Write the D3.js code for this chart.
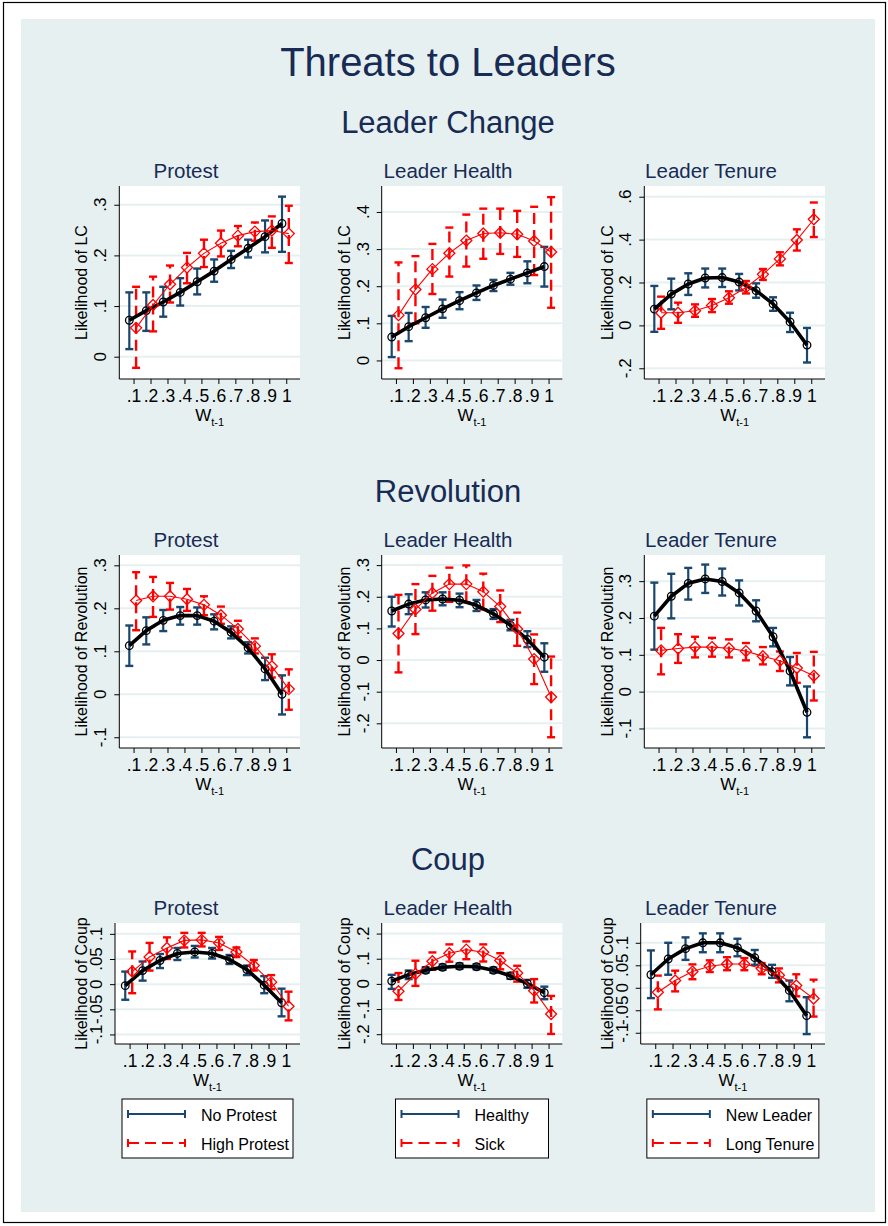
<!DOCTYPE html>
<html>
<head>
<meta charset="utf-8">
<title>Threats to Leaders</title>
<script src="https://d3js.org/d3.v7.min.js"></script>
<style>
  body { margin: 0; background: #fff; }
  svg { font-family: "Liberation Sans", Arial, Helvetica, sans-serif; display: block; }
</style>
</head>
<body>
<script>
// ---- data: each row is [estimate, lower CI, upper CI] at W = .1 ... 1
var xValues = [0.1, 0.2, 0.3, 0.4, 0.5, 0.6, 0.7, 0.8, 0.9, 1];
var xTickLabels = [".1", ".2", ".3", ".4", ".5", ".6", ".7", ".8", ".9", "1"];

var rowTitles = ["Leader Change", "Revolution", "Coup"];
var colTitles = ["Protest", "Leader Health", "Leader Tenure"];
var yTitles = ["Likelihood of LC", "Likelihood of Revolution", "Likelihood of Coup"];
var legendLabels = [["No Protest", "High Protest"], ["Healthy", "Sick"], ["New Leader", "Long Tenure"]];

var yTicks = [
  [[0, 0.1, 0.2, 0.3], [0, 0.1, 0.2, 0.3, 0.4], [-0.2, 0, 0.2, 0.4, 0.6]],
  [[-0.1, 0, 0.1, 0.2, 0.3], [-0.2, -0.1, 0, 0.1, 0.2, 0.3], [-0.1, 0, 0.1, 0.2, 0.3]],
  [[-0.1, -0.05, 0, 0.05, 0.1], [-0.2, -0.1, 0, 0.1, 0.2], [-0.1, -0.05, 0, 0.05, 0.1]]
];

var lcProtestNo = [[0.072,0.015,0.127],[0.091,0.051,0.127],[0.108,0.079,0.138],[0.127,0.101,0.155],[0.148,0.123,0.174],
  [0.169,0.148,0.192],[0.192,0.175,0.209],[0.214,0.196,0.231],[0.237,0.206,0.269],[0.263,0.207,0.316]];
var lcProtestHigh = [[0.057,-0.022,0.138],[0.102,0.05,0.158],[0.143,0.107,0.18],[0.176,0.145,0.205],[0.204,0.177,0.231],
  [0.224,0.198,0.249],[0.239,0.218,0.258],[0.247,0.229,0.265],[0.249,0.215,0.277],[0.243,0.185,0.298]];
var lcHealthHealthy = [[0.063,0.009,0.12],[0.091,0.052,0.128],[0.115,0.088,0.144],[0.139,0.115,0.164],[0.161,0.138,0.184],
  [0.182,0.163,0.202],[0.202,0.187,0.217],[0.219,0.204,0.236],[0.236,0.208,0.267],[0.253,0.199,0.306]];
var lcHealthSick = [[0.122,-0.021,0.264],[0.191,0.10,0.281],[0.246,0.179,0.314],[0.289,0.226,0.358],[0.323,0.253,0.393],
  [0.342,0.274,0.409],[0.344,0.287,0.409],[0.34,0.279,0.403],[0.322,0.23,0.414],[0.292,0.142,0.44]];
var lcTenureNew = [[0.076,-0.03,0.184],[0.146,0.075,0.218],[0.193,0.142,0.243],[0.221,0.177,0.265],[0.223,0.179,0.265],
  [0.202,0.163,0.24],[0.162,0.129,0.196],[0.1,0.068,0.131],[0.016,-0.031,0.059],[-0.092,-0.173,-0.012]];
var lcTenureLong = [[0.059,-0.016,0.134],[0.059,0.012,0.106],[0.068,0.04,0.098],[0.093,0.062,0.123],[0.129,0.101,0.159],
  [0.177,0.149,0.207],[0.238,0.212,0.263],[0.31,0.28,0.341],[0.398,0.349,0.448],[0.495,0.412,0.573]];

var revProtestNo = [[0.113,0.066,0.16],[0.148,0.116,0.179],[0.172,0.147,0.196],[0.183,0.162,0.203],[0.183,0.162,0.202],
  [0.17,0.151,0.186],[0.144,0.13,0.158],[0.108,0.095,0.121],[0.059,0.033,0.085],[0.0,-0.047,0.044]];
var revProtestHigh = [[0.218,0.149,0.284],[0.228,0.18,0.273],[0.228,0.197,0.259],[0.221,0.194,0.245],[0.208,0.184,0.228],
  [0.184,0.164,0.204],[0.152,0.133,0.171],[0.112,0.095,0.13],[0.065,0.039,0.093],[0.012,-0.036,0.058]];
var revHealthHealthy = [[0.155,0.106,0.2],[0.177,0.145,0.208],[0.19,0.166,0.214],[0.193,0.173,0.214],[0.189,0.167,0.21],
  [0.173,0.155,0.19],[0.146,0.13,0.161],[0.11,0.094,0.127],[0.065,0.041,0.091],[0.009,-0.037,0.053]];
var revHealthSick = [[0.084,-0.039,0.206],[0.16,0.082,0.24],[0.212,0.156,0.266],[0.24,0.184,0.292],[0.24,0.183,0.299],
  [0.216,0.16,0.273],[0.169,0.12,0.22],[0.098,0.045,0.15],[0.003,-0.076,0.081],[-0.117,-0.244,0.011]];
var revTenureNew = [[0.205,0.114,0.296],[0.259,0.199,0.32],[0.294,0.25,0.336],[0.306,0.268,0.345],[0.299,0.261,0.334],
  [0.268,0.234,0.302],[0.219,0.191,0.248],[0.149,0.123,0.173],[0.056,0.017,0.094],[-0.056,-0.124,0.014]];
var revTenureLong = [[0.112,0.047,0.173],[0.117,0.078,0.156],[0.121,0.093,0.149],[0.121,0.095,0.146],[0.118,0.093,0.142],
  [0.11,0.085,0.132],[0.096,0.074,0.121],[0.084,0.056,0.109],[0.064,0.024,0.105],[0.043,-0.024,0.108]];

var coupProtestNo = [[-0.003,-0.031,0.025],[0.027,0.007,0.045],[0.047,0.032,0.06],[0.061,0.048,0.072],[0.064,0.053,0.076],
  [0.061,0.051,0.072],[0.049,0.04,0.058],[0.029,0.018,0.037],[-0.002,-0.018,0.016],[-0.037,-0.064,-0.009]];
var coupProtestHigh = [[0.025,-0.018,0.065],[0.054,0.027,0.082],[0.072,0.05,0.093],[0.087,0.073,0.102],[0.088,0.075,0.102],
  [0.082,0.068,0.094],[0.064,0.054,0.073],[0.037,0.027,0.048],[0.004,-0.01,0.018],[-0.044,-0.072,-0.015]];
var coupHealthHealthy = [[0.011,-0.02,0.036],[0.037,0.019,0.053],[0.054,0.044,0.066],[0.066,0.056,0.077],[0.07,0.06,0.081],
  [0.068,0.058,0.078],[0.054,0.044,0.065],[0.032,0.02,0.044],[0.001,-0.016,0.016],[-0.035,-0.061,-0.011]];
var coupHealthSick = [[-0.029,-0.064,0.043],[0.039,-0.008,0.092],[0.09,0.056,0.125],[0.122,0.088,0.157],[0.136,0.098,0.169],
  [0.126,0.089,0.157],[0.093,0.058,0.122],[0.043,0.009,0.072],[-0.027,-0.074,0.019],[-0.12,-0.199,-0.048]];
var coupTenureNew = [[0.029,-0.023,0.083],[0.064,0.029,0.1],[0.087,0.062,0.112],[0.1,0.079,0.121],[0.1,0.079,0.121],
  [0.089,0.07,0.109],[0.067,0.051,0.084],[0.036,0.022,0.051],[-0.006,-0.03,0.016],[-0.062,-0.103,-0.021]];
var coupTenureLong = [[-0.01,-0.048,0.027],[0.016,-0.008,0.038],[0.036,0.019,0.052],[0.048,0.035,0.061],[0.053,0.039,0.068],
  [0.053,0.039,0.066],[0.043,0.03,0.055],[0.028,0.012,0.043],[0.005,-0.019,0.03],[-0.024,-0.064,0.018]];

var panelData = [
  [[lcProtestNo, lcProtestHigh], [lcHealthHealthy, lcHealthSick], [lcTenureNew, lcTenureLong]],
  [[revProtestNo, revProtestHigh], [revHealthHealthy, revHealthSick], [revTenureNew, revTenureLong]],
  [[coupProtestNo, coupProtestHigh], [coupHealthHealthy, coupHealthSick], [coupTenureNew, coupTenureLong]]
];

// ---- layout
var width = 888, height = 1226;
var bgColor = "#e6f0f1", gridColor = "#e6f0f1";
var navy = "#1a476f", red = "#ff0000", titleColor = "#172b55";
var rowTop = [186, 555, 923];
var rowHeight = [193, 193, 121];
var axisLeft = [[119.3, 381.7, 644.3], [119.3, 381.7, 644.3], [115, 381.7, 640.7]];
var plotRight = [300, 562.3, 825];
var colCenter = [186, 448, 711];
var yTitleX = [87, 350, 613];
var xDomain = [0.016, 1.081];
var yDomains = [
  [[-0.044, 0.337], [-0.05, 0.47], [-0.25, 0.65]],
  [[-0.125, 0.324], [-0.278, 0.332], [-0.153, 0.371]],
  [[-0.119, 0.1216], [-0.239, 0.242], [-0.125, 0.144]]
];
var xOffset = [-0.025, 0.015];   // No/High shifted apart like the original
var legendWidth = [171, 153, 172];
var dash = "11,6";

function fmt(v) {
  if (v === 0) return "0";
  var s = String(+v.toFixed(3));
  return s.replace("0.", ".");
}

var svg = d3.select("body").append("svg")
  .attr("width", width)
  .attr("height", height);

svg.append("rect")
  .attr("x", 3.5).attr("y", 2.5)
  .attr("width", 882).attr("height", 1220)
  .attr("fill", "#fff").attr("stroke", "#000").attr("stroke-width", 1.2);

svg.append("rect")
  .attr("x", 21).attr("y", 19)
  .attr("width", 854).attr("height", 1193)
  .attr("fill", bgColor);

svg.append("text")
  .attr("x", 448).attr("y", 76)
  .attr("text-anchor", "middle")
  .attr("font-size", 40)
  .attr("fill", titleColor)
  .text("Threats to Leaders");

rowTitles.forEach(function (t, r) {
  svg.append("text")
    .attr("x", 448).attr("y", rowTop[r] - 53)
    .attr("text-anchor", "middle")
    .attr("font-size", 31)
    .attr("fill", titleColor)
    .text(t);
});

function drawPanel(r, c) {
  var left = axisLeft[r][c], right = plotRight[c];
  var top = rowTop[r], bottom = top + rowHeight[r];
  var x = d3.scaleLinear().domain(xDomain).range([left, right]);
  var y = d3.scaleLinear().domain(yDomains[r][c]).range([bottom, top]);
  var ticks = yTicks[r][c];
  var g = svg.append("g");

  g.append("rect")
    .attr("x", left).attr("y", top)
    .attr("width", right - left).attr("height", bottom - top)
    .attr("fill", "#fff");

  g.selectAll(".grid").data(ticks).enter().append("line")
    .attr("x1", left).attr("x2", right)
    .attr("y1", function (d) { return y(d); })
    .attr("y2", function (d) { return y(d); })
    .attr("stroke", gridColor).attr("stroke-width", 2);

  // axes
  var yAxis = d3.axisLeft(y).tickValues(ticks).tickSize(5).tickSizeOuter(0).tickFormat("");
  var ya = g.append("g").attr("transform", "translate(" + left + ",0)").call(yAxis);
  var xAxis = d3.axisBottom(x).tickValues(xValues).tickSize(5).tickSizeOuter(0).tickPadding(6)
    .tickFormat(function (d, i) { return xTickLabels[i]; });
  var xa = g.append("g").attr("transform", "translate(0," + bottom + ")").call(xAxis);
  [ya, xa].forEach(function (a) {
    a.attr("font-family", null).attr("font-size", 17.5);
    a.selectAll("path, line").attr("stroke", "#000").attr("stroke-width", 1);
    a.selectAll("text").attr("fill", "#000");
  });
  ya.select(".domain").attr("d", "M0," + bottom + "V" + top);
  xa.select(".domain").attr("d", "M" + left + ",0H" + right);

  g.selectAll(".ylab").data(ticks).enter().append("text")
    .attr("transform", function (d) { return "translate(" + (left - 13) + "," + y(d) + ") rotate(-90)"; })
    .attr("text-anchor", "middle")
    .attr("font-size", 17)
    .text(fmt);

  g.append("text")
    .attr("transform", "translate(" + yTitleX[c] + "," + (top + bottom) / 2 + ") rotate(-90)")
    .attr("text-anchor", "middle")
    .attr("font-size", 16)
    .text(yTitles[r]);

  var wt = g.append("text")
    .attr("x", (left + right) / 2).attr("y", bottom + 42)
    .attr("text-anchor", "middle")
    .attr("font-size", 17);
  wt.append("tspan").text("W");
  wt.append("tspan").attr("font-size", 11).attr("dy", 5).text("t-1");

  g.append("text")
    .attr("x", colCenter[c]).attr("y", top - 8)
    .attr("text-anchor", "middle")
    .attr("font-size", 20.5)
    .attr("fill", titleColor)
    .text(colTitles[c]);

  var series = panelData[r][c];

  // confidence intervals (spikes drawn from lower to upper bound)
  series.forEach(function (s, k) {
    var col = k === 0 ? navy : red;
    var off = xOffset[k];
    var bars = g.append("g");
    s.forEach(function (d, i) {
      var cx = x(xValues[i] + off);
      bars.append("line")
        .attr("x1", cx).attr("x2", cx)
        .attr("y1", y(d[1])).attr("y2", y(d[2]))
        .attr("stroke", col).attr("stroke-width", k === 0 ? 2.2 : 2.4)
        .attr("stroke-dasharray", k === 0 ? null : dash);
      [d[1], d[2]].forEach(function (v) {
        bars.append("line")
          .attr("x1", cx - 4).attr("x2", cx + 4)
          .attr("y1", y(v)).attr("y2", y(v))
          .attr("stroke", col).attr("stroke-width", 2.4);
      });
    });
  });

  // connected point estimates
  var noSer = series[0], hiSer = series[1];
  var lineNo = d3.line()
    .x(function (d, i) { return x(xValues[i] + xOffset[0]); })
    .y(function (d) { return y(d[0]); });
  g.append("path").datum(noSer)
    .attr("d", lineNo)
    .attr("fill", "none").attr("stroke", "#000").attr("stroke-width", 3.6)
    .attr("stroke-linejoin", "round");
  g.selectAll(".dotNo").data(noSer).enter().append("circle")
    .attr("cx", function (d, i) { return x(xValues[i] + xOffset[0]); })
    .attr("cy", function (d) { return y(d[0]); })
    .attr("r", 3.8)
    .attr("fill", "none").attr("stroke", "#000").attr("stroke-width", 1.3);

  var lineHi = d3.line()
    .x(function (d, i) { return x(xValues[i] + xOffset[1]); })
    .y(function (d) { return y(d[0]); });
  g.append("path").datum(hiSer)
    .attr("d", lineHi)
    .attr("fill", "none").attr("stroke", red).attr("stroke-width", 1.1);
  g.selectAll(".dotHi").data(hiSer).enter().append("path")
    .attr("transform", function (d, i) { return "translate(" + x(xValues[i] + xOffset[1]) + "," + y(d[0]) + ")"; })
    .attr("d", "M0,-5.5L5.5,0L0,5.5L-5.5,0Z")
    .attr("fill", "none").attr("stroke", red).attr("stroke-width", 1.3);
}

for (var r = 0; r < 3; r++) {
  for (var c = 0; c < 3; c++) drawPanel(r, c);
}

// legends under each column
colTitles.forEach(function (t, c) {
  var left = axisLeft[2][c], right = plotRight[c];
  var w = legendWidth[c];
  var bx = (left + right) / 2 - w / 2, by = 1099;
  var lg = svg.append("g");
  lg.append("rect")
    .attr("x", bx).attr("y", by).attr("width", w).attr("height", 59)
    .attr("fill", "#fff").attr("stroke", "#000").attr("stroke-width", 1);
  legendLabels[c].forEach(function (lab, k) {
    var yy = by + 15 + k * 29;
    var x0 = bx + 6, x1 = bx + 6 + 57;
    var col = k === 0 ? navy : red;
    lg.append("line")
      .attr("x1", x0).attr("x2", x1).attr("y1", yy).attr("y2", yy)
      .attr("stroke", col).attr("stroke-width", 2)
      .attr("stroke-dasharray", k === 0 ? null : dash);
    [x0, x1].forEach(function (xx) {
      lg.append("line")
        .attr("x1", xx).attr("x2", xx).attr("y1", yy - 4).attr("y2", yy + 4)
        .attr("stroke", col).attr("stroke-width", 2);
    });
    lg.append("text")
      .attr("x", x1 + 16).attr("y", yy + 6.5)
      .attr("font-size", 16)
      .text(lab);
  });
});
</script>
</body>
</html>
